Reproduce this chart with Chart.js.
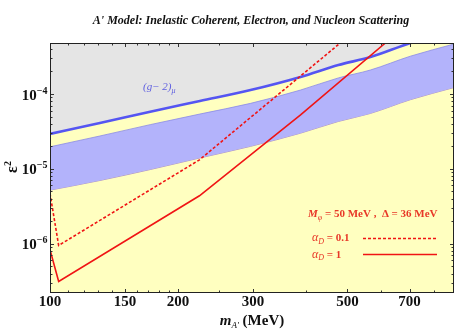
<!DOCTYPE html>
<html>
<head>
<meta charset="utf-8">
<script src="https://cdn.jsdelivr.net/npm/chart.js@4.4.1/dist/chart.umd.min.js"></script>
<style>
  html, body { margin: 0; padding: 0; background: #fff; }
  canvas { display: block; }
</style>
</head>
<body>
<canvas id="chart" width="458" height="330"></canvas>
<script>
// m_A' values (MeV) where the band curves were read
const bandMass = [100, 131, 172, 225, 296, 388, 476, 566, 703, 890];
// (g-2)_mu favoured line and the band below it
const gm2Line   = [2.93e-5, 4.10e-5, 5.81e-5, 8.07e-5, 1.13e-4, 1.69e-4, 2.44e-4, 3.11e-4, 4.79e-4, 6.9e-4];
const bandUpper = [1.97e-5, 2.75e-5, 3.9e-5, 5.4e-5, 7.5e-5, 1.13e-4, 1.64e-4, 2.09e-4, 3.2e-4, 4.65e-4];
const bandLower = [5.2e-6, 7.0e-6, 9.8e-6, 1.4e-5, 2.0e-5, 3.0e-5, 4.3e-5, 5.5e-5, 8.4e-5, 1.22e-4];

// alpha_D = 0.1 (dashed)
const dashMass = [100, 104.8, 224.5, 481, 522];
const dashEps  = [4.7e-6, 9.5e-7, 1.32e-5, 4.8e-4, 7.1e-4];
// alpha_D = 1 (solid)
const solidMass = [100, 104.8, 224.5, 388, 614, 664];
const solidEps  = [8.3e-7, 3.14e-7, 4.37e-6, 5.25e-5, 4.8e-4, 7.1e-4];

const xTickValues = [100, 150, 200, 300, 500, 700];
const xMinorTicks = [110, 120, 130, 140, 160, 170, 180, 190, 250, 400, 600, 800];
const yTickExps = [-4, -5, -6];

const SERIF = '"Liberation Serif", "Times New Roman", serif';
const YELLOW = '#ffffc0';
const GRAY = '#e5e5e5';
const LAV = '#b3b3fb';
const BLUE = '#5555f2';
const RED = '#f01414';
const TXTRED = '#e83828';

const zip = (xs, ys) => xs.map((v, i) => ({ x: v, y: ys[i] }));
const f = (style, size) => `${style} ${size}px ${SERIF}`;

function richText(ctx, parts, x, y, align) {
  let w = 0;
  parts.forEach(p => { ctx.font = p.font; p.w = ctx.measureText(p.t).width; w += p.w; });
  let cx = align === 'right' ? x - w : align === 'center' ? x - w / 2 : x;
  parts.forEach(p => {
    ctx.font = p.font;
    ctx.fillText(p.t, cx, y + (p.dy || 0));
    cx += p.w;
  });
}

const decor = {
  id: 'decor',
  beforeDraw(chart) {
    const { ctx, chartArea: a } = chart;
    ctx.save();
    ctx.fillStyle = YELLOW;
    ctx.fillRect(a.left, a.top, a.right - a.left, a.bottom - a.top);
    ctx.restore();
  },
  afterDatasetsDraw(chart) {
    const { ctx, chartArea: a, scales: { x, y } } = chart;
    ctx.save();
    ctx.strokeStyle = '#333';
    ctx.lineWidth = 1;
    ctx.beginPath();
    // ticks inside the frame, bottom and top
    const xt = (v, len) => {
      const px = Math.round(x.getPixelForValue(v)) + 0.5;
      ctx.moveTo(px, a.bottom); ctx.lineTo(px, a.bottom - len);
      ctx.moveTo(px, a.top); ctx.lineTo(px, a.top + len);
    };
    xTickValues.forEach(v => xt(v, 4));
    xMinorTicks.forEach(v => xt(v, 2.5));
    // left and right
    const yt = (v, len) => {
      const py = Math.round(y.getPixelForValue(v)) + 0.5;
      ctx.moveTo(a.left, py); ctx.lineTo(a.left + len, py);
      ctx.moveTo(a.right, py); ctx.lineTo(a.right - len, py);
    };
    yTickExps.forEach(e => yt(Math.pow(10, e), 4));
    for (let e = -7; e <= -4; e++) {
      for (let k = 2; k <= 9; k++) {
        const v = k * Math.pow(10, e);
        if (v > y.min && v < y.max) yt(v, 2.5);
      }
    }
    ctx.stroke();
    ctx.strokeStyle = '#222';
    ctx.strokeRect(a.left + 0.5, a.top + 0.5, a.right - a.left - 1, a.bottom - a.top - 1);
    ctx.restore();
  },
  afterDraw(chart) {
    const { ctx, chartArea: a, scales: { y } } = chart;
    ctx.save();
    ctx.textBaseline = 'alphabetic';
    ctx.fillStyle = '#111';

    // title
    richText(ctx, [{ t: "A' Model: Inelastic Coherent, Electron, and Nucleon Scattering", font: f('italic bold', 12) }], 251, 24, 'center');

    // y tick labels 10^-n
    yTickExps.forEach(e => {
      const py = y.getPixelForValue(Math.pow(10, e));
      richText(ctx, [
        { t: '10', font: f('bold', 15) },
        { t: '\u2212' + (-e), font: f('bold', 10), dy: -6 }
      ], a.left - 2.5, py + 5.5, 'right');
    });

    // axis titles
    richText(ctx, [
      { t: 'm', font: f('italic bold', 15) },
      { t: "A'", font: f('italic', 9), dy: 3 },
      { t: ' (MeV)', font: f('bold', 15) }
    ], 252, 325, 'center');

    ctx.save();
    ctx.translate(12, 167);
    ctx.rotate(-Math.PI / 2);
    richText(ctx, [
      { t: '\u03b5', font: f('bold', 16) },
      { t: '2', font: f('bold', 10), dy: -6 }
    ], 0, 5, 'center');
    ctx.restore();

    // (g-2)_mu label
    ctx.fillStyle = '#6060e0';
    richText(ctx, [
      { t: '(g\u2212 2)', font: f('italic', 11) },
      { t: '\u03bc', font: f('italic', 8), dy: 3 }
    ], 143, 90, 'left');

    // legend block
    ctx.fillStyle = TXTRED;
    richText(ctx, [
      { t: 'M', font: f('italic bold', 11) },
      { t: '\u03c6', font: f('italic', 8), dy: 2.5 },
      { t: ' = 50 MeV ,  \u0394 = 36 MeV', font: f('bold', 11) }
    ], 308, 217, 'left');
    richText(ctx, [
      { t: '\u03b1', font: f('italic', 12) },
      { t: 'D', font: f('italic', 8), dy: 2.5 },
      { t: ' = 0.1', font: f('bold', 11) }
    ], 312, 241, 'left');
    richText(ctx, [
      { t: '\u03b1', font: f('italic', 12) },
      { t: 'D', font: f('italic', 8), dy: 2.5 },
      { t: ' = 1', font: f('bold', 11) }
    ], 312, 257.5, 'left');

    ctx.strokeStyle = RED;
    ctx.lineWidth = 1.6;
    ctx.setLineDash([3, 2]);
    ctx.beginPath(); ctx.moveTo(363, 238.5); ctx.lineTo(437, 238.5); ctx.stroke();
    ctx.setLineDash([]);
    ctx.beginPath(); ctx.moveTo(363, 254.5); ctx.lineTo(437, 254.5); ctx.stroke();
    ctx.restore();
  }
};

new Chart(document.getElementById('chart').getContext('2d'), {
  type: 'line',
  data: {
    datasets: [
      { label: 'alphaD = 1', data: zip(solidMass, solidEps), borderColor: RED, borderWidth: 1.6, fill: false, order: 0 },
      { label: 'alphaD = 0.1', data: zip(dashMass, dashEps), borderColor: RED, borderWidth: 1.6, borderDash: [3, 2], fill: false, order: 1 },
      { label: '(g-2)mu', data: zip(bandMass, gm2Line), borderColor: BLUE, borderWidth: 2.6, fill: 'end', backgroundColor: GRAY, cubicInterpolationMode: 'monotone', order: 2 },
      { label: 'band upper', data: zip(bandMass, bandUpper), borderColor: '#8a8ae6', borderWidth: 0.8, fill: '+1', backgroundColor: LAV, cubicInterpolationMode: 'monotone', order: 3 },
      { label: 'band lower', data: zip(bandMass, bandLower), borderColor: '#a07cc0', borderWidth: 0.8, fill: false, cubicInterpolationMode: 'monotone', order: 4 }
    ]
  },
  options: {
    responsive: false,
    animation: false,
    layout: { padding: { top: 43, right: 4, left: 0, bottom: 0 } },
    elements: { point: { radius: 0 }, line: { tension: 0 } },
    plugins: {
      legend: { display: false },
      title: { display: false },
      tooltip: { enabled: false }
    },
    scales: {
      x: {
        type: 'logarithmic',
        min: 100,
        max: 890,
        grid: { display: false },
        border: { display: false },
        afterBuildTicks: s => { s.ticks = xTickValues.map(v => ({ value: v })); },
        afterFit: s => { s.height = 37; },
        ticks: {
          autoSkip: false,
          maxRotation: 0,
          padding: -8,
          color: '#111',
          font: { family: SERIF, size: 15, weight: 'bold' },
          callback: v => String(v)
        }
      },
      y: {
        type: 'logarithmic',
        min: 2.2e-7,
        max: 4.8e-4,
        grid: { display: false },
        border: { display: false },
        ticks: { display: false },
        afterFit: s => { s.width = 50; }
      }
    }
  },
  plugins: [decor]
});
</script>
</body>
</html>
